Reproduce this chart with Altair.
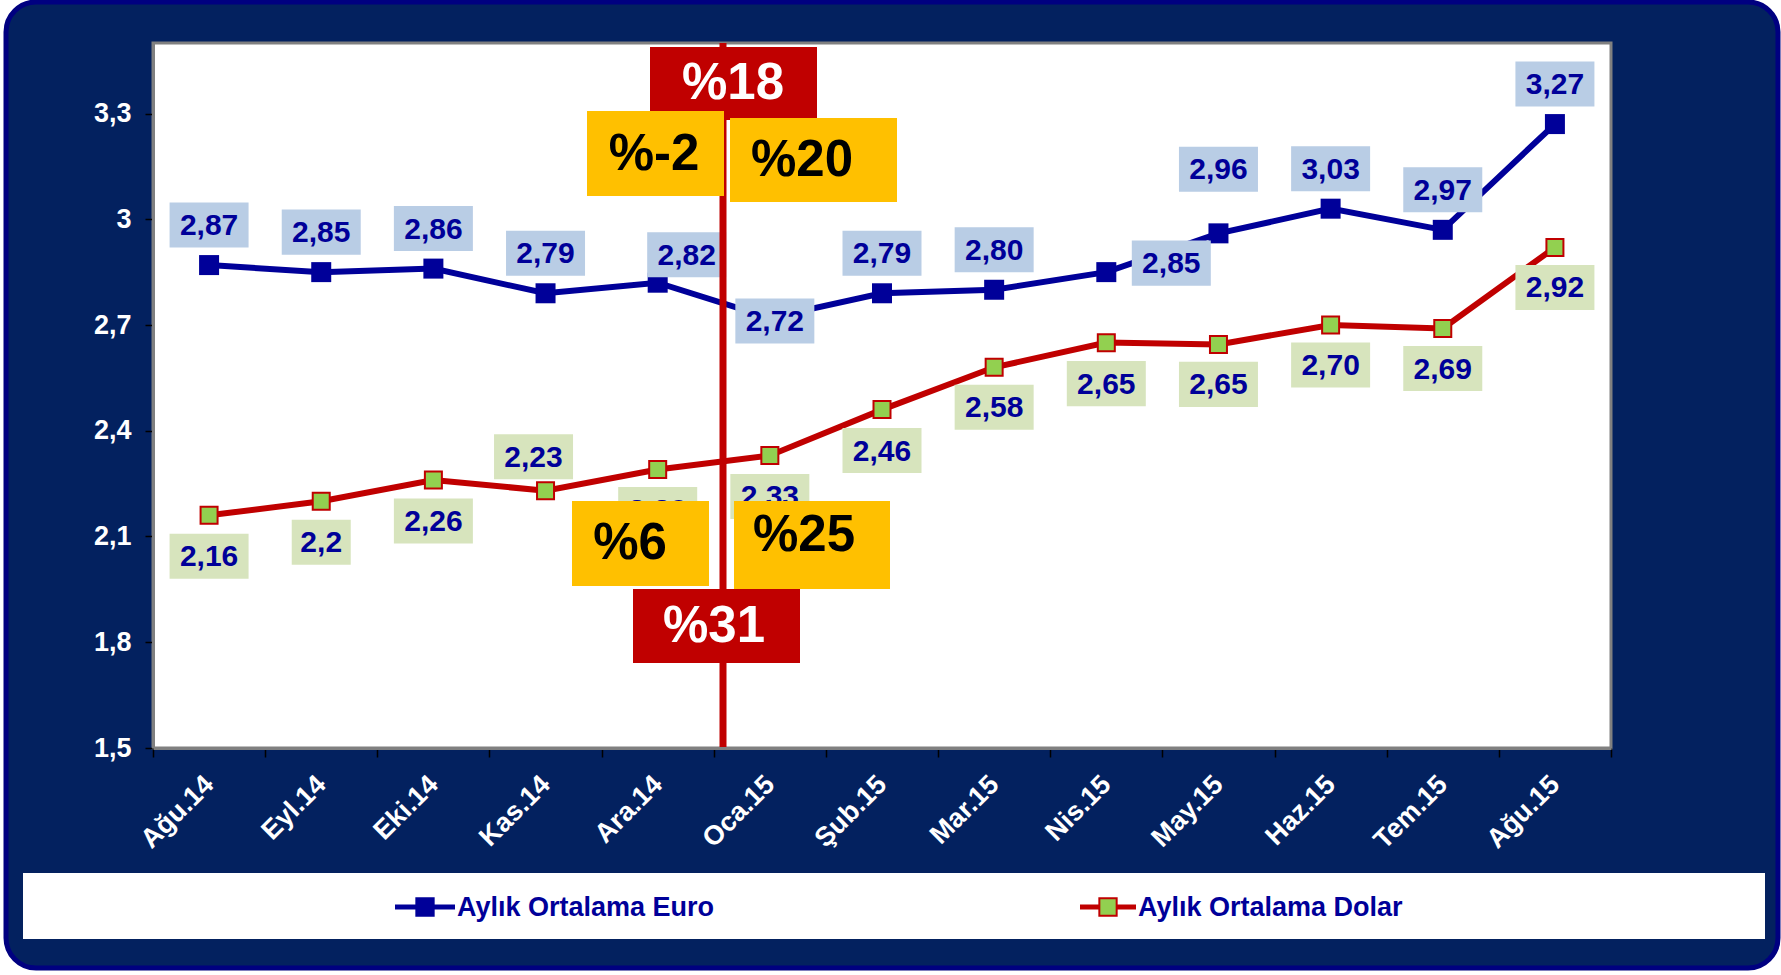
import altair as alt
import pandas as pd

# ---------------- data ----------------
months = ["Ağu.14", "Eyl.14", "Eki.14", "Kas.14", "Ara.14", "Oca.15", "Şub.15",
          "Mar.15", "Nis.15", "May.15", "Haz.15", "Tem.15", "Ağu.15"]
euro = [2.87, 2.85, 2.86, 2.79, 2.82, 2.72, 2.79, 2.80, 2.85, 2.96, 3.03, 2.97, 3.27]
dolar = [2.16, 2.20, 2.26, 2.23, 2.29, 2.33, 2.46, 2.58, 2.65, 2.645, 2.70, 2.69, 2.92]
euro_labels = ["2,87", "2,85", "2,86", "2,79", "2,82", "2,72", "2,79",
               "2,80", "2,85", "2,96", "3,03", "2,97", "3,27"]
dolar_labels = ["2,16", "2,2", "2,26", "2,23", "2,29", "2,33", "2,46",
                "2,58", "2,65", "2,65", "2,70", "2,69", "2,92"]
y_ticks = [1.5, 1.8, 2.1, 2.4, 2.7, 3.0, 3.3]
series_names = ["Aylık Ortalama Euro", "Aylık Ortalama Dolar"]
change_labels = ["%18", "%-2", "%20", "%6", "%25", "%31"]

# ---------------- layout (pixels) ----------------
W, H = 1458, 705
NAVY = "#03215F"
BLUE = "#000099"
RED = "#C00000"
GREEN = "#92D050"
GOLD = "#FFC000"
FONT = "Liberation Sans"

# label offsets from their point (pixels)
eu_dx = [0, 0, 0, 0, 29, 5, 0, 0, 65, 0, 0, 0, 0]
eu_dy = [-40, -40, -40, -40, -28, 3, -40, -40, -9, -64, -40, -40, -40]
us_dx = [0, 0, 0, -12, 0, 0, 0, 0, 0, 0, 0, 0, 0]
us_dy = [41, 41, 41, -34, 40, 41, 41, 40, 41, 40, 40, 40, 40]


def box_path(label):
    half = (20 * len(label) - 1) / 79.0
    return f"M{-half:.3f},-0.57L{half:.3f},-0.57L{half:.3f},0.57L{-half:.3f},0.57Z"


eu_df = pd.DataFrame({"month": months, "value": euro, "label": euro_labels,
                      "dx": eu_dx, "dy": eu_dy})
us_df = pd.DataFrame({"month": months, "value": dolar, "label": dolar_labels,
                      "dx": us_dx, "dy": us_dy})
eu_df["shape"] = eu_df["label"].map(box_path)
us_df["shape"] = us_df["label"].map(box_path)

X = alt.X("month:N", sort=months,
          scale=alt.Scale(type="band", paddingInner=0, paddingOuter=0),
          axis=alt.Axis(title=None, labelAngle=-45, labelAlign="right",
                        labelBaseline="middle", labelColor="white",
                        labelFont=FONT, labelFontSize=27, labelFontWeight="bold",
                        labelPadding=23, tickBand="extent", tickColor="black",
                        tickSize=9, tickWidth=1.5, domainColor="#808080",
                        domainWidth=3, zindex=1))
Y = alt.Y("value:Q",
          scale=alt.Scale(domain=[1.5, 3.5], nice=False, zero=False),
          axis=alt.Axis(title=None, values=y_ticks,
                        labelExpr="replace(datum.value + '', '.', ',')",
                        labelColor="white", labelFont=FONT, labelFontSize=27,
                        labelFontWeight="bold", labelPadding=14,
                        tickColor="black", tickSize=8, tickWidth=1.5,
                        domainColor="#808080", domainWidth=3, grid=False,
                        zindex=1))

base_one = pd.DataFrame({"k": [0]})

frame = alt.Chart(base_one).mark_rect(
    cornerRadius=30, fill=NAVY, stroke="#000080", strokeWidth=5
).encode(x=alt.value(-147), x2=alt.value(1625), y=alt.value(-41), y2=alt.value(925))

plot_bg = alt.Chart(base_one).mark_rect(
    fill="white", stroke="#808080", strokeWidth=3
).encode(x=alt.value(0), x2=alt.value(W), y=alt.value(0), y2=alt.value(H))

legend_bg = alt.Chart(base_one).mark_rect(fill="white").encode(
    x=alt.value(-130), x2=alt.value(1612), y=alt.value(830), y2=alt.value(896))

eu_line = alt.Chart(eu_df).mark_line(color=BLUE, strokeWidth=6).encode(x=X, y=Y)
us_line = alt.Chart(us_df).mark_line(color=RED, strokeWidth=6).encode(x=X, y=Y)
eu_pts = alt.Chart(eu_df).mark_point(
    shape="square", filled=True, size=400, color=BLUE, opacity=1
).encode(x=X, y=Y)
us_pts = alt.Chart(us_df).mark_point(
    shape="square", filled=True, size=289, fill=GREEN, stroke=RED,
    strokeWidth=2, opacity=1
).encode(x=X, y=Y)


def label_layers(df, box_color):
    layers = []
    for (dx, dy), sub in df.groupby(["dx", "dy"]):
        boxes = alt.Chart(sub).mark_point(
            filled=True, fill=box_color, size=6241, opacity=1, strokeWidth=0,
            xOffset=int(dx), yOffset=int(dy)
        ).encode(x=X, y=Y, shape=alt.Shape("shape:N", scale=None))
        texts = alt.Chart(sub).mark_text(
            font=FONT, fontSize=30, fontWeight="bold", color=BLUE,
            baseline="middle", align="center", dx=int(dx), dy=int(dy) + 1
        ).encode(x=X, y=Y, text="label:N")
        layers += [boxes, texts]
    return layers


eu_labels_layers = label_layers(eu_df, "#B9CDE5")
us_labels_layers = label_layers(us_df, "#D7E4BD")

red_line = alt.Chart(base_one).mark_rule(color=RED, strokeWidth=7).encode(
    x=alt.value(570), y=alt.value(0), y2=alt.value(H))

# annotation boxes: (x, x2, y, y2, fill, text colour, text x, text y)
ann_geom = [
    (497, 664, 4, 77, RED, "white", 580, 41),
    (434, 571, 68, 153, GOLD, "black", 501, 112),
    (577, 744, 75, 159, GOLD, "black", 649, 118),
    (419, 556, 458, 543, GOLD, "black", 477, 501),
    (581, 737, 458, 546, GOLD, "black", 651, 493),
    (480, 647, 546, 620, RED, "white", 561, 584),
]
ann_layers = []
for txt, (x0, x1, y0, y1, fill, tcol, tx, ty) in zip(change_labels, ann_geom):
    ann_layers.append(alt.Chart(base_one).mark_rect(fill=fill).encode(
        x=alt.value(x0), x2=alt.value(x1), y=alt.value(y0), y2=alt.value(y1)))
    ann_layers.append(alt.Chart(base_one).mark_text(
        text=txt, font=FONT, fontSize=51, fontWeight="bold", color=tcol,
        align="center", baseline="middle"
    ).encode(x=alt.value(tx), y=alt.value(ty)))

# legend
leg_layers = []
leg_specs = [(242, 302, 272, BLUE, BLUE, 304), (927, 983, 955, RED, GREEN, 985)]
for name, (lx0, lx1, px, lcol, pfill, tx) in zip(series_names, leg_specs):
    leg_layers.append(alt.Chart(base_one).mark_rule(color=lcol, strokeWidth=5).encode(
        x=alt.value(lx0), x2=alt.value(lx1), y=alt.value(864)))
    leg_layers.append(alt.Chart(base_one).mark_point(
        shape="square", filled=True, fill=pfill, stroke=lcol, strokeWidth=2,
        size=300, opacity=1
    ).encode(x=alt.value(px), y=alt.value(864)))
    leg_layers.append(alt.Chart(base_one).mark_text(
        text=name, font=FONT, fontSize=27, fontWeight="bold", color=BLUE,
        align="left", baseline="middle"
    ).encode(x=alt.value(tx), y=alt.value(865)))

chart = alt.layer(
    frame, plot_bg, legend_bg,
    us_line, eu_line, us_pts, eu_pts,
    *eu_labels_layers, *us_labels_layers,
    red_line, *ann_layers, *leg_layers
).properties(
    width=W, height=H,
    autosize=alt.AutoSizeParams(type="none"),
    padding={"left": 153, "top": 43, "right": 170, "bottom": 227},
    background="white",
).configure_view(stroke="transparent").configure(font=FONT)

chart.save("out.html", embed_options={"renderer": "svg", "actions": False})
